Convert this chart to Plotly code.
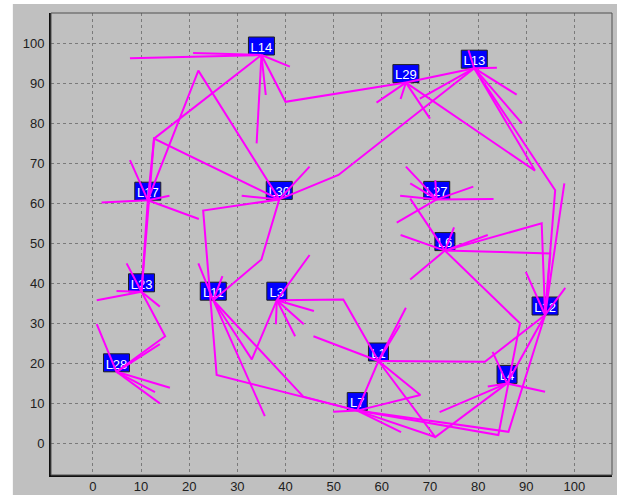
import plotly.graph_objects as go

# Station names and their coordinates
NODE_NAMES = ["L1", "L3", "L4", "L6", "L7", "L11", "L12", "L13",
              "L14", "L17", "L23", "L27", "L28", "L29", "L30"]
NODE_X = [59.3, 38.2, 86.0, 73.1, 54.9, 25.0, 93.9, 79.2,
          35.0, 11.4, 10.1, 71.4, 4.9, 65.0, 38.7]
NODE_Y = [20.6, 35.8, 15.0, 48.2, 8.2, 35.8, 32.1, 93.8,
          97.1, 60.8, 37.9, 61.0, 17.9, 90.2, 61.0]

# Short links: start station and free end point
SPOKE_FROM = ["L14", "L14", "L14", "L14", "L14",
              "L17", "L17", "L17", "L17",
              "L30", "L30",
              "L29", "L29", "L29",
              "L13", "L13", "L13", "L13", "L13",
              "L27", "L27", "L27", "L27", "L27", "L27", "L27",
              "L6", "L6", "L6", "L6", "L6",
              "L12", "L12", "L12",
              "L4", "L4", "L4", "L4",
              "L1", "L1", "L1",
              "L7", "L7",
              "L11", "L11", "L11",
              "L3", "L3", "L3", "L3", "L3",
              "L23", "L23", "L23", "L23",
              "L28", "L28", "L28", "L28", "L28"]
SPOKE_X = [7.7, 20.8, 40.9, 34.0, 35.9,
           1.8, 15.9, 7.7, 22.0,
           30.9, 45.0,
           58.9, 63.9, 70.0,
           83.9, 88.0, 89.1, 78.0, 67.9,
           65.0, 65.9, 63.8, 83.2, 79.0, 71.1, 63.1,
           63.9, 65.9, 75.0, 82.0, 65.9,
           89.9, 98.1, 97.9,
           93.9, 82.0, 83.0, 72.0,
           65.0, 63.8, 45.8,
           49.9, 64.0,
           21.9, 26.9, 35.7,
           45.0, 45.9, 43.8, 42.0, 38.0,
           0.8, 4.9, 7.0, 13.9,
           0.8, 16.0, 12.9, 13.9, 13.9]
SPOKE_Y = [96.3, 97.6, 94.2, 75.0, 87.1,
           60.2, 61.9, 70.8, 56.1,
           61.9, 69.2,
           85.2, 86.1, 81.2,
           93.9, 87.2, 80.0, 98.3, 86.2,
           69.2, 65.0, 61.9, 61.1, 64.2, 65.8, 55.2,
           52.1, 41.0, 54.0, 52.1, 61.2,
           42.9, 38.9, 65.0,
           12.9, 14.2, 22.9, 7.8,
           33.9, 29.6, 26.8,
           7.9, 2.8,
           45.0, 41.8, 6.8,
           47.1, 33.1, 29.8, 26.8, 29.8,
           35.8, 38.1, 45.0, 34.2,
           29.8, 13.9, 12.8, 10.0, 24.8]

# Longer routes: stations joined through intermediate way points
ROUTES = [
    ["L14", (40.0, 85.4), "L29"],
    ["L29", "L13"],
    ["L14", (12.7, 76.2), "L17"],
    ["L30", (12.7, 76.2), "L23"],
    ["L17", (21.9, 93.2), "L30"],
    ["L17", "L23"],
    ["L30", (51.0, 67.1), "L13"],
    ["L30", (22.9, 58.2), (25.7, 17.1), "L7"],
    ["L30", (35.0, 46.0), "L11"],
    ["L29", (91.8, 68.2), "L13"],
    ["L13", (96.0, 63.3), "L12"],
    ["L6", (93.2, 55.0), "L12"],
    ["L6", (95.0, 47.5), "L12"],
    ["L6", (88.7, 30.0), (84.2, 2.1), "L7"],
    ["L12", (81.4, 20.4), "L1"],
    ["L12", (86.3, 2.9), "L7"],
    ["L4", "L12"],
    ["L1", (71.1, 1.6), "L4"],
    ["L1", (68.0, 12.1), "L7"],
    ["L1", "L7"],
    ["L7", (71.1, 1.6)],
    ["L3", (52.0, 36.0), "L1"],
    ["L11", (33.0, 21.0), "L3"],
    ["L11", (43.7, 11.7), "L7"],
    ["L23", (15.0, 26.8), "L28"],
]

X_TICKS = list(range(0, 101, 10))
Y_TICKS = list(range(0, 101, 10))

BG = "#c0c0c0"
LINK_COLOR = "#ff00ff"

pos = dict(zip(NODE_NAMES, zip(NODE_X, NODE_Y)))

lx, ly = [], []
for name, ex, ey in zip(SPOKE_FROM, SPOKE_X, SPOKE_Y):
    sx, sy = pos[name]
    lx += [sx, ex, None]
    ly += [sy, ey, None]
for route in ROUTES:
    for p in route:
        px, py = pos[p] if isinstance(p, str) else p
        lx.append(px)
        ly.append(py)
    lx.append(None)
    ly.append(None)

fig = go.Figure()

# Station names (drawn first so links pass over them)
fig.add_trace(go.Scatter(
    x=NODE_X, y=NODE_Y, text=NODE_NAMES, mode="text",
    textposition="top center",
    textfont=dict(family="Liberation Sans", size=13, color="white"),
    hoverinfo="skip", showlegend=False,
))

fig.add_trace(go.Scatter(
    x=lx, y=ly, mode="lines",
    line=dict(color=LINK_COLOR, width=2),
    hoverinfo="skip", showlegend=False,
))

# Label boxes behind the names
shapes = []
for name, x, y in zip(NODE_NAMES, NODE_X, NODE_Y):
    half = 13 if len(name) > 2 else 10
    shapes.append(dict(
        type="rect", layer="between",
        xref="x", yref="y", xsizemode="pixel", ysizemode="pixel",
        xanchor=x, yanchor=y, x0=-half, x1=half, y0=0, y1=18,
        fillcolor="#0000ff", line=dict(color="#202020", width=1),
    ))

# Grey panel surrounding the plot
shapes.append(dict(
    type="rect", layer="below", xref="paper", yref="paper",
    x0=-0.068, x1=1.02, y0=-0.06, y1=1.0195,
    fillcolor=BG, line=dict(width=0),
))
# Thin frame on top / right
shapes.append(dict(
    type="rect", layer="above", xref="paper", yref="paper",
    x0=0, x1=1, y0=0, y1=1,
    line=dict(color="#505050", width=1),
))

fig.update_layout(
    width=617, height=495,
    margin=dict(l=51, r=5, t=13, b=20, autoexpand=False),
    paper_bgcolor="white",
    plot_bgcolor=BG,
    shapes=shapes,
    showlegend=False,
    font=dict(family="Liberation Sans", size=13, color="#202020"),
)

axis_common = dict(
    showgrid=True, gridcolor="#7a7a7a", gridwidth=1, griddash="3px,3px",
    zeroline=False, showline=True, linecolor="#101010", linewidth=2,
    ticks="", automargin=False,
    tickfont=dict(family="Liberation Sans", size=13, color="#202020"),
)
fig.update_xaxes(range=[-8.7, 107.8], tickvals=X_TICKS, ticklabelstandoff=-2,
                 **axis_common)
fig.update_yaxes(range=[-7.9, 107.6], tickvals=Y_TICKS, ticklabelstandoff=2,
                 **axis_common)

fig.write_html("out.html")
